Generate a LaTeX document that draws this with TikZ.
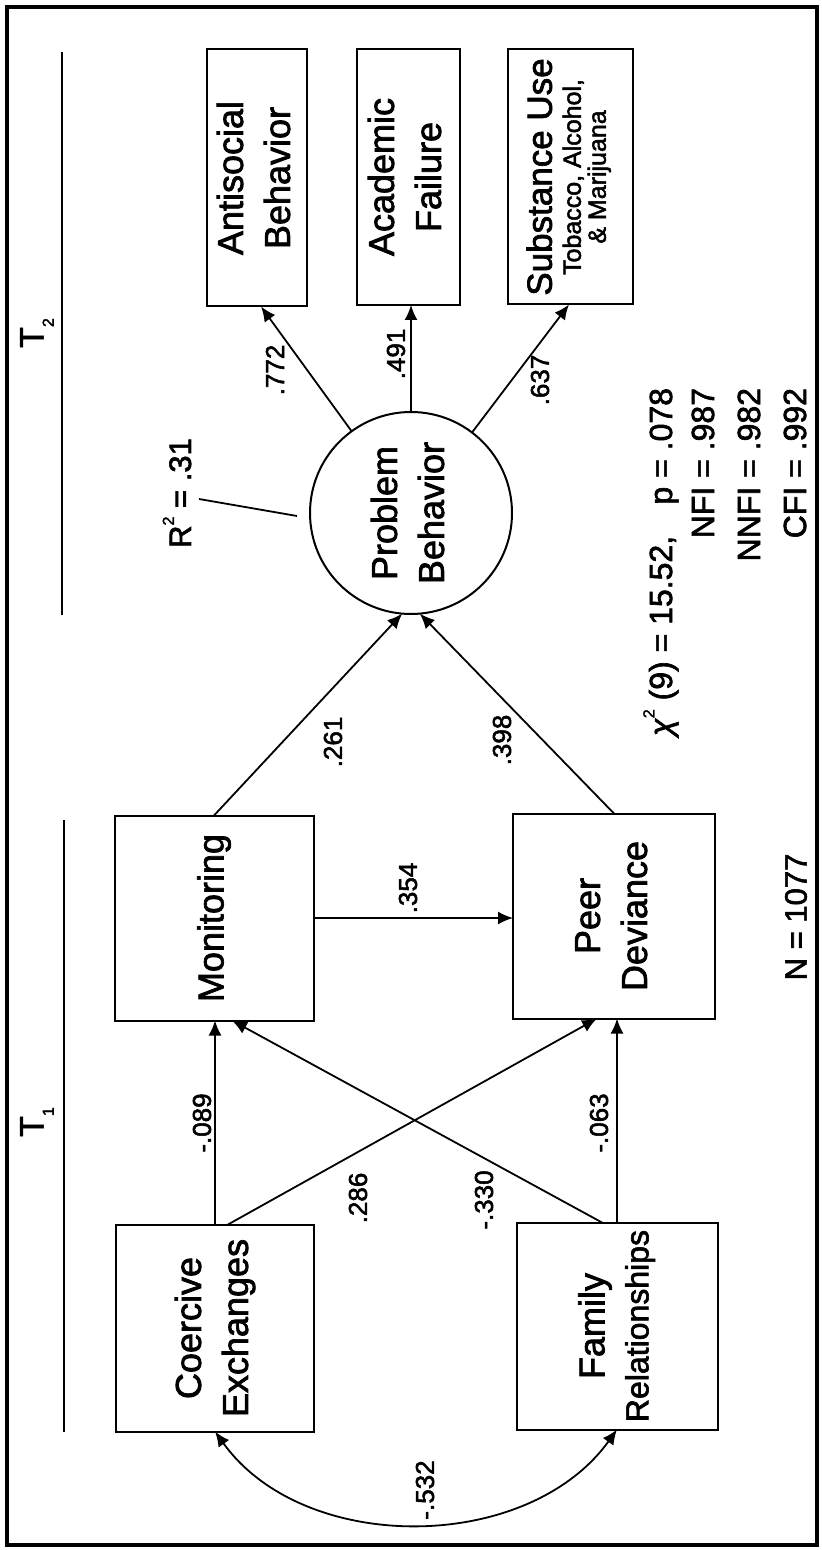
\documentclass[tikz,border=0pt]{standalone}
\usepackage{fontspec}
\setmainfont{Liberation Sans}[FakeBold=2]
\usepackage{graphicx}
\usetikzlibrary{arrows.meta,calc}
\newcommand{\fs}[1]{\fontsize{#1}{#1}\selectfont}
\newcommand{\rtext}[1]{\rotatebox{90}{\fontsize{18}{23.5}\selectfont\begin{tabular}{@{}c@{}}#1\end{tabular}}}
\begin{document}
\begin{tikzpicture}[x=0.5pt,y=-0.5pt,
  every node/.style={inner sep=0pt, outer sep=0pt},
  box/.style={draw, line width=1pt, rectangle},
  conn/.style={line width=0.9pt, -{Latex[length=7.5pt,width=6.5pt]}},
  lbl/.style={rotate=90, font=\fs{13}},
  stat/.style={rotate=90, font=\fs{16}, anchor=base east},
  tlab/.style={rotate=90, font=\fs{17}}]

\useasboundingbox (0,0) rectangle (822,1550);
\draw[line width=2pt] (7,7) rectangle (817,1545);

% time lines
\coordinate (t2a) at (62,52);
\coordinate (t2b) at (62,615);
\coordinate (t1a) at (64,820);
\coordinate (t1b) at (64,1432);
\draw[line width=0.9pt] (t2a) -- (t2b);
\draw[line width=0.9pt] (t1a) -- (t1b);
\node[tlab] (T2) at (37,333) {T\raisebox{-0.3em}{\fs{8}2}};
\node[tlab] (T1) at (37,1122) {T\raisebox{-0.3em}{\fs{8}1}};

% outcome boxes
\node[box, minimum width=50pt, minimum height=128.5pt] (ant) at (257,178) {\rtext{Antisocial\\Behavior}};
\node[box, minimum width=51.5pt, minimum height=128pt] (aca) at (408,177) {\rtext{Academic\\Failure}};
\node[box, minimum width=62.5pt, minimum height=127.5pt] (sub) at (570,177)
  {\rotatebox{90}{\fontsize{12.5}{13}\selectfont\begin{tabular}{@{}c@{}}{\fs{17.5}Substance Use}\\[1.5pt]Tobacco, Alcohol,\\[-0.5pt]\&~Marijuana\end{tabular}}};

% latent
\node[draw, circle, line width=1pt, minimum size=101pt] (pb) at (411,513) {\rtext{Problem\\Behavior}};

% T1 boxes
\node[box, minimum width=99.5pt, minimum height=102.5pt] (mon) at (214,918) {\rtext{Monitoring}};
\node[box, minimum width=101pt, minimum height=102.5pt] (peer) at (614,916) {\rtext{Peer\\Deviance}};
\node[box, minimum width=99pt, minimum height=103.5pt] (coe) at (215,1328) {\rtext{Coercive\\Exchanges}};
\node[box, minimum width=100.5pt, minimum height=103.5pt] (fam) at (617,1326) {\rtext{Family\\[-1.5pt]{\fs{16}Relationships}}};

% connectors
\draw[conn] (pb) -- ([xshift=2pt]ant.south);
\draw[conn] (pb.north) -- (pb.north |- aca.south);
\draw[conn] (pb) -- ([xshift=-0.5pt]sub.south);
\draw[conn] (mon.north) -- (pb.265);
\draw[conn] (peer.north) -- (pb.275);
\draw[conn] (mon.east) -- (mon.east -| peer.west);
\draw[conn] (coe.north) -- (coe.north |- mon.south);
\draw[conn] (fam.north) -- (fam.north |- peer.south);
\draw[conn] ([xshift=6.5pt]coe.north) -- ([xshift=-8.5pt]peer.south);
\draw[conn] ([xshift=-7.5pt]fam.north) -- ([xshift=9pt]mon.south);
\draw[line width=0.9pt, {Latex[length=7.5pt,width=6.5pt]}-{Latex[length=7.5pt,width=6.5pt]}]
  (coe.south) .. controls ($(coe.south)+(89,124)$) and ($(fam.south)+(-89,124)$) .. (fam.south);

% R^2
\coordinate (r2a) at (199,499);
\coordinate (r2b) at (297,516);
\draw[line width=0.9pt] (r2a) -- (r2b);
\node[rotate=90, font=\fs{15.5}] (r2) at (177,493) {R\raisebox{0.55em}{\fs{8}2} = .31};

% path labels
\node[lbl] (l772) at (275,370) {.772};
\node[lbl] (l491) at (396,354) {.491};
\node[lbl] (l637) at (540,380) {.637};
\node[lbl] (l261) at (333,742) {.261};
\node[lbl] (l398) at (502,740) {.398};
\node[lbl] (l354) at (408,888) {.354};
\node[lbl] (l089) at (202,1123) {-.089};
\node[lbl] (l063) at (599,1123) {-.063};
\node[lbl] (l286) at (358,1198) {.286};
\node[lbl] (l330) at (484,1200) {-.330};
\node[lbl] (l532) at (425,1490) {-.532};

% fit statistics
\node[stat] (chi) at (672,388) {\textit{χ}\raisebox{0.55em}{\fs{8}2} (9) = 15.52,\hspace{0.7em} p = .078};
\node[stat] (nfi) at (714,388) {NFI = .987};
\node[stat] (nnfi) at (760,388) {NNFI = .982};
\node[stat] (cfi) at (806,388) {CFI = .992};
\node[rotate=90, font=\fs{15.5}] (n) at (796,917) {N = 1077};
\end{tikzpicture}
\end{document}
